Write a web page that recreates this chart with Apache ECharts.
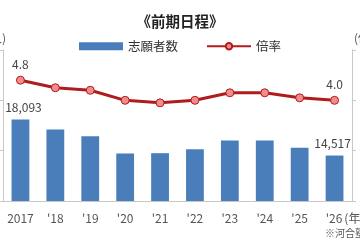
<!DOCTYPE html>
<html><head><meta charset="utf-8">
<script src="https://cdn.jsdelivr.net/npm/echarts@6/dist/echarts.min.js"></script>
<style>html,body{margin:0;padding:0;background:#fff;}#c{width:360px;height:240px;}</style>
</head><body><div id="c"></div>
<script>
var categories = ["2017", "'18", "'19", "'20", "'21", "'22", "'23", "'24", "'25", "'26"];
var applicants = [18093, 17100, 16430, 14720, 14750, 15130, 16020, 16020, 15300, 14517];
var rates = [4.8, 4.5, 4.4, 4.0, 3.9, 4.0, 4.3, 4.3, 4.1, 4.0];
var leftTicks = [10000, 25000, 5000];
var rightTicks = [0, 6, 2];

var FONT = '"Noto Sans CJK JP", "Noto Sans", sans-serif';
var last = categories.length - 1;
var barData = applicants.map(function (v, i) {
  var o = { value: v };
  if (i === 0 || i === last) {
    o.label = { show: true, offset: [i === 0 ? 3 : -2, 0] };
  }
  return o;
});
var lineData = rates.map(function (v, i) {
  var o = { value: v };
  if (i === 0 || i === last) o.label = { show: true };
  return o;
});

var chart = echarts.init(document.getElementById('c'), null, { renderer: 'canvas' });
chart.setOption({
  animation: false,
  textStyle: { fontFamily: FONT },
  title: {
    text: '《前期日程》', left: 'center', top: 9,
    textStyle: { fontSize: 14.5, fontWeight: 'bold', color: '#222', fontFamily: FONT }
  },
  legend: {
    top: 35, left: 'center', itemWidth: 44, itemHeight: 8, itemGap: 28,
    textStyle: { fontSize: 12.5, color: '#333', fontFamily: FONT },
    data: [
      { name: '志願者数', icon: 'rect' },
      { name: '倍率' }
    ]
  },
  grid: { left: 3, right: 8, top: 50, bottom: 39, containLabel: false, outerBoundsMode: 'none' },
  xAxis: {
    type: 'category', data: categories,
    axisLine: { lineStyle: { color: '#c8c8c8' } },
    axisTick: { show: false },
    axisLabel: {
      color: '#555', fontSize: 12, margin: 11, interval: 0,
      formatter: function (v, i) {
        return i === last ? '{p|}' + v + '{u|(年度)}' : v;
      },
      rich: {
        p: { width: 33 },
        u: { fontSize: 12, color: '#555', padding: [0, 0, 0, 2] }
      }
    }
  },
  yAxis: [
    {
      type: 'value', position: 'left', min: leftTicks[0], max: leftTicks[1], interval: leftTicks[2],
      name: '(人)', nameLocation: 'end', nameGap: 6,
      nameTextStyle: { align: 'right', color: '#555', fontSize: 12, padding: [0, -3, 0, 0] },
      axisLine: { show: true, lineStyle: { color: '#c8c8c8' } },
      axisTick: { show: true, length: 3, lineStyle: { color: '#c8c8c8' } },
      axisLabel: { show: false },
      splitLine: { show: false }
    },
    {
      type: 'value', position: 'right', min: rightTicks[0], max: rightTicks[1], interval: rightTicks[2],
      name: '(倍)', nameLocation: 'end', nameGap: 6,
      nameTextStyle: { align: 'left', color: '#555', fontSize: 12, padding: [0, 0, 0, 2] },
      axisLine: { show: true, lineStyle: { color: '#c8c8c8' } },
      axisTick: { show: true, length: 4, lineStyle: { color: '#c8c8c8' } },
      axisLabel: { show: false },
      splitLine: { show: false }
    }
  ],
  series: [
    {
      name: '志願者数', type: 'bar', yAxisIndex: 0, data: barData,
      barWidth: '51%',
      itemStyle: { color: '#4A7EBB' },
      label: { show: false, position: 'top', distance: 6, color: '#444', fontSize: 12,
        formatter: function (p) { return p.value.toLocaleString('en-US'); } }
    },
    {
      name: '倍率', type: 'line', yAxisIndex: 1, data: lineData,
      symbol: 'circle', symbolSize: 8,
      lineStyle: { color: '#B01C1C', width: 3 },
      itemStyle: { color: '#F08C8C', borderColor: '#B01C1C', borderWidth: 1 },
      label: { show: false, position: 'top', distance: 5, color: '#444', fontSize: 12,
        formatter: function (p) { return p.value.toFixed(1); } },
      z: 5
    }
  ],
  graphic: [
    { type: 'text', left: 325, bottom: 2,
      style: { text: '※河合塾調べ', fontSize: 10, fill: '#555', fontFamily: FONT } }
  ]
});
</script></body></html>
